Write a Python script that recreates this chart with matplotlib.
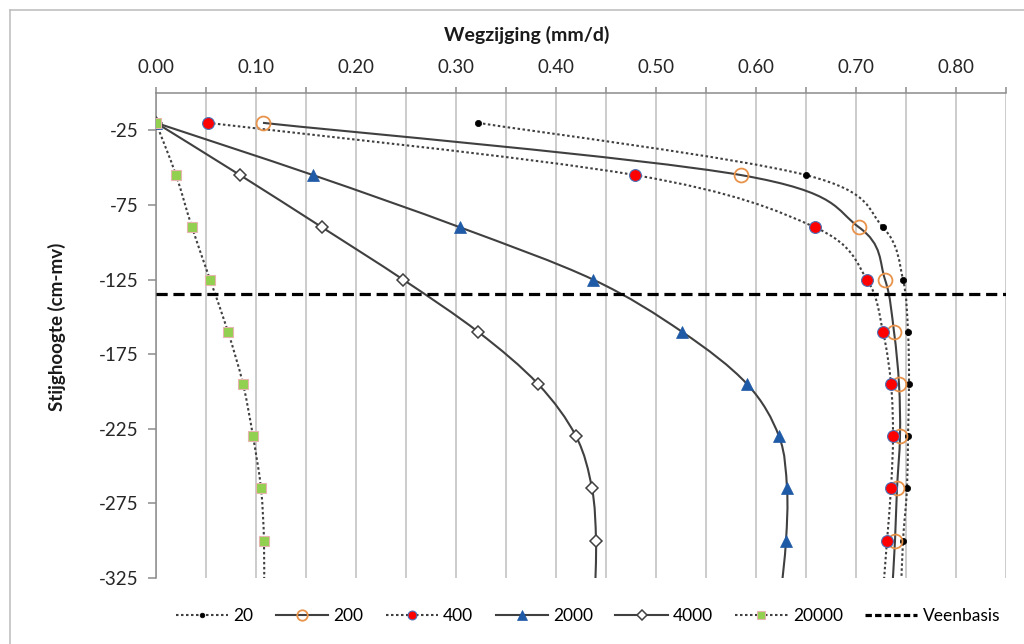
import numpy as np
import matplotlib
matplotlib.use('Agg')
import matplotlib.pyplot as plt
from matplotlib.path import Path
from matplotlib.patches import PathPatch
from matplotlib.lines import Line2D
from matplotlib.ticker import MultipleLocator, FixedLocator

plt.rcParams['font.family'] = ['Lato', 'DejaVu Sans']

# ---- data ----
depths = [-20, -55, -90, -125, -160, -195, -230, -265, -300, -335]
s20 = [0.322, 0.650, 0.727, 0.747, 0.752, 0.753, 0.752, 0.751, 0.747, 0.745]
s200 = [0.107, 0.585, 0.703, 0.729, 0.738, 0.743, 0.744, 0.741, 0.739, 0.736]
s400 = [0.052, 0.479, 0.659, 0.711, 0.727, 0.735, 0.737, 0.735, 0.731, 0.727]
s2000 = [0.0, 0.157, 0.304, 0.437, 0.526, 0.591, 0.623, 0.631, 0.630, 0.625]
s4000 = [0.0, 0.084, 0.166, 0.247, 0.322, 0.382, 0.420, 0.436, 0.440, 0.439]
s20000 = [0.0, 0.020, 0.036, 0.054, 0.072, 0.087, 0.097, 0.105, 0.108, 0.108]
series_labels = ['20', '200', '400', '2000', '4000', '20000']
veenbasis = -135
y_ticks = [-25, -75, -125, -175, -225, -275, -325]
x_ticks = [0.0, 0.1, 0.2, 0.3, 0.4, 0.5, 0.6, 0.7, 0.8]

W, H = 1024, 644
fig = plt.figure(figsize=(W / 100, H / 100), dpi=100)
ax = fig.add_axes([156 / W, 1 - 578 / H, 850 / W, 485 / H])
ax.set_xlim(0, 0.85)
ax.set_ylim(-325, 0)

LINE = '#404040'
DOT = (0, (1.2, 1.2))


def smooth_path(x, y):
    pts = np.column_stack([x, y]).astype(float)
    n = len(pts)
    verts = [pts[0]]
    codes = [Path.MOVETO]
    for i in range(n - 1):
        p0 = pts[i - 1] if i > 0 else pts[i]
        p1 = pts[i]
        p2 = pts[i + 1]
        p3 = pts[i + 2] if i + 2 < n else pts[i + 1]
        verts += [p1 + (p2 - p0) / 6, p2 - (p3 - p1) / 6, p2]
        codes += [Path.CURVE4] * 3
    return Path(verts, codes)


styles = [
    dict(vals=s20, ls=DOT, marker='o', ms=4.5, mfc='black', mec='black', mew=0.5),
    dict(vals=s200, ls='-', marker='o', ms=10, mfc='none', mec='#E8924A', mew=1.3),
    dict(vals=s400, ls=DOT, marker='o', ms=8.5, mfc='#FF0000', mec='#4A6FB5', mew=0.8),
    dict(vals=s2000, ls='-', marker='^', ms=9, mfc='#1F5AA6', mec='#1F5AA6', mew=0.5),
    dict(vals=s4000, ls='-', marker='D', ms=6.5, mfc='white', mec='#404040', mew=1.1),
    dict(vals=s20000, ls=DOT, marker='s', ms=7.5, mfc='#92D050', mec='#E8B4B0', mew=0.8),
]

handles = []
for st, lab in zip(styles, series_labels):
    patch = PathPatch(smooth_path(st['vals'], depths), facecolor='none',
                      edgecolor=LINE, lw=1.5, linestyle=st['ls'], zorder=3)
    ax.add_patch(patch)
    ax.plot(st['vals'], depths, linestyle='none', marker=st['marker'], ms=st['ms'],
            mfc=st['mfc'], mec=st['mec'], mew=st['mew'], zorder=4)
    handles.append(Line2D([], [], color=LINE, lw=1.5, linestyle=st['ls'],
                          marker=st['marker'], ms=st['ms'] * 0.75, mfc=st['mfc'],
                          mec=st['mec'], mew=st['mew']))

ax.axhline(veenbasis, color='black', lw=2.3, linestyle=(0, (3.5, 1.8)), zorder=5)
handles.append(Line2D([], [], color='black', lw=2.3, linestyle=(0, (2, 1))))

# axes styling
ax.xaxis.tick_top()
ax.xaxis.set_major_locator(FixedLocator(x_ticks))
ax.xaxis.set_minor_locator(MultipleLocator(0.05))
ax.set_xticklabels([f'{v:.2f}' for v in x_ticks])
ax.yaxis.set_major_locator(FixedLocator(y_ticks))
ax.set_yticklabels([str(v) for v in y_ticks])
ax.grid(True, which='both', axis='x', color='#C8C8C8', lw=1.3)
ax.set_axisbelow(True)
for s in ['right', 'bottom']:
    ax.spines[s].set_visible(False)
for s in ['left', 'top']:
    ax.spines[s].set_color('#8C8C8C')
    ax.spines[s].set_linewidth(1.1)
ax.tick_params(axis='x', which='both', top=True, bottom=False, length=4,
               color='#8C8C8C', width=1.1, pad=8, labelsize=13.5, labelcolor='#262626')
ax.tick_params(axis='y', which='major', length=5.5, color='#8C8C8C', width=1.1,
               pad=7, labelsize=13.5, labelcolor='#262626')

fig.text(527 / W, 1 - 35 / H, 'Wegzijging (mm/d)', ha='center', va='center',
         fontsize=14, fontweight='bold', color='#1a1a1a')
fig.text(57 / W, 1 - 327 / H, 'Stijghoogte (cm-mv)', ha='center', va='center',
         rotation=90, fontsize=13.5, fontweight='bold', color='#1a1a1a')

fig.legend(handles, series_labels + ['Veenbasis'], loc='center',
           bbox_to_anchor=(588 / W, 1 - 616 / H), ncol=7, frameon=False,
           fontsize=12.5, handlelength=3.0, columnspacing=1.3, handletextpad=0.3)

# outer chart frame
fig.add_artist(Line2D([10 / W, 10 / W], [0, 1 - 10 / H], color='#C0C0C0', lw=1.2))
fig.add_artist(Line2D([10 / W, 1], [1 - 10 / H, 1 - 10 / H], color='#C0C0C0', lw=1.2))

fig.savefig('out.png', dpi=100, facecolor='white')
